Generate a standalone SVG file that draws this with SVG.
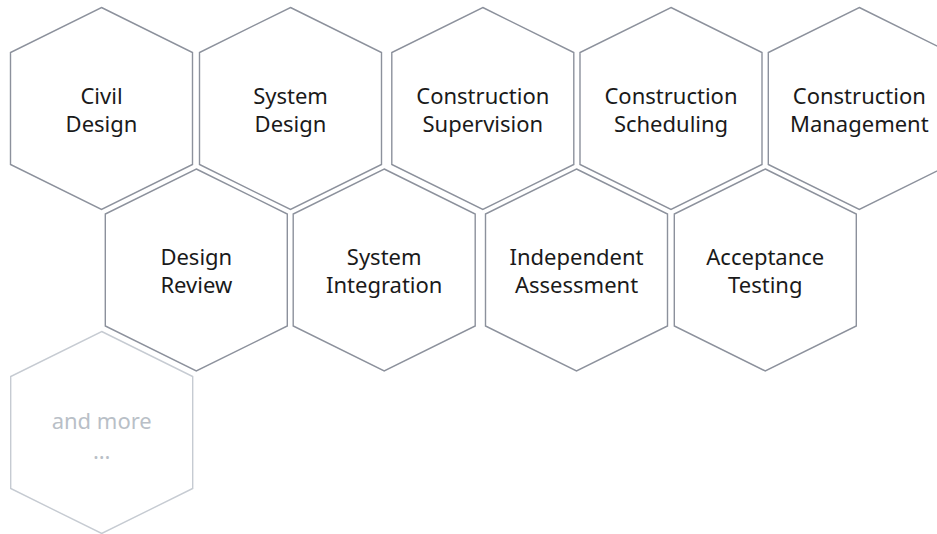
<svg xmlns="http://www.w3.org/2000/svg" xmlns:xlink="http://www.w3.org/1999/xlink" width="937" height="534" viewBox="0 0 937 534">
<style>
.hex{fill:#ffffff;stroke:#8c919c;stroke-width:1.4}
.hex.more{stroke:#c6cbd2}
.lbl{font-family:"Noto Sans","Open Sans","DejaVu Sans",sans-serif;font-size:22px;fill:#1a1a1a;text-anchor:middle}
.lbl.more{fill:#b9bfc7}
</style>
<defs>
<polygon id="hexShape" points="0,-101 91,-56 91,56 0,101 -91,56 -91,-56"/>
</defs>
<rect width="937" height="534" fill="#ffffff"/>
<g id="connectors"></g>
<g id="civil-design" transform="translate(101.5,108.5)">
<use xlink:href="#hexShape" class="hex"/>
<text class="lbl" y="-5">Civil</text><text class="lbl" y="23.3">Design</text>
</g>
<g id="system-design" transform="translate(290.5,108.5)">
<use xlink:href="#hexShape" class="hex"/>
<text class="lbl" y="-5">System</text><text class="lbl" y="23.3">Design</text>
</g>
<g id="construction-supervision" transform="translate(482.8,108.5)">
<use xlink:href="#hexShape" class="hex"/>
<text class="lbl" y="-5">Construction</text><text class="lbl" y="23.3">Supervision</text>
</g>
<g id="construction-scheduling" transform="translate(671,108.5)">
<use xlink:href="#hexShape" class="hex"/>
<text class="lbl" y="-5">Construction</text><text class="lbl" y="23.3">Scheduling</text>
</g>
<g id="construction-management" transform="translate(859.3,108.5)">
<use xlink:href="#hexShape" class="hex"/>
<text class="lbl" y="-5">Construction</text><text class="lbl" y="23.3">Management</text>
</g>
<g id="design-review" transform="translate(196.3,270)">
<use xlink:href="#hexShape" class="hex"/>
<text class="lbl" y="-5">Design</text><text class="lbl" y="23.3">Review</text>
</g>
<g id="system-integration" transform="translate(384.2,270)">
<use xlink:href="#hexShape" class="hex"/>
<text class="lbl" y="-5">System</text><text class="lbl" y="23.3">Integration</text>
</g>
<g id="independent-assessment" transform="translate(576.5,270)">
<use xlink:href="#hexShape" class="hex"/>
<text class="lbl" y="-5">Independent</text><text class="lbl" y="23.3">Assessment</text>
</g>
<g id="acceptance-testing" transform="translate(765.3,270)">
<use xlink:href="#hexShape" class="hex"/>
<text class="lbl" y="-5">Acceptance</text><text class="lbl" y="23.3">Testing</text>
</g>
<g id="and-more" transform="translate(101.7,432.5)">
<use xlink:href="#hexShape" class="hex more"/>
<text class="lbl more" y="-3.5">and more</text><text class="lbl more" y="26.5">…</text>
</g>
</svg>
